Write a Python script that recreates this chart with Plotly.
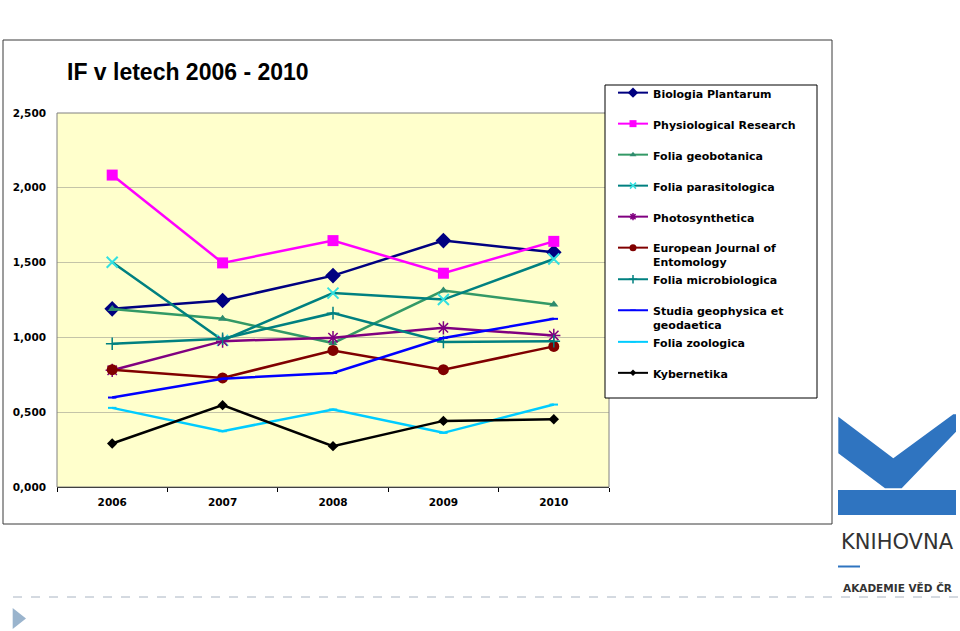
import plotly.graph_objects as go

# ---- data ----
years = ["2006", "2007", "2008", "2009", "2010"]
biologia = [1.191, 1.247, 1.413, 1.647, 1.569]
physiol = [2.085, 1.498, 1.647, 1.429, 1.642]
geobot = [1.190, 1.124, 0.962, 1.313, 1.220]
parasit = [1.502, 0.980, 1.296, 1.253, 1.524]
photosyn = [0.780, 0.975, 0.998, 1.064, 1.013]
eje = [0.784, 0.729, 0.913, 0.784, 0.940]
microbiol = [0.958, 0.991, 1.162, 0.969, 0.975]
studia = [0.598, 0.724, 0.762, 0.996, 1.124]
zoolog = [0.529, 0.373, 0.518, 0.362, 0.551]
kybern = [0.291, 0.547, 0.273, 0.442, 0.453]

series_names = [
    "Biologia Plantarum",
    "Physiological Research",
    "Folia geobotanica",
    "Folia parasitologica",
    "Photosynthetica",
    "European Journal of<br>Entomology",
    "Folia microbiologica",
    "Studia geophysica et<br>geodaetica",
    "Folia zoologica",
    "Kybernetika",
]
series_values = [biologia, physiol, geobot, parasit, photosyn, eje, microbiol, studia, zoolog, kybern]
y_ticks = [0, 0.5, 1.0, 1.5, 2.0, 2.5]

# ---- styles ----
styles = [
    dict(line="#000080", sym="diamond", mcol="#000080", size=12, lsize=8, lw=0),
    dict(line="#FF00FF", sym="square", mcol="#FF00FF", size=11, lsize=7, lw=0),
    dict(line="#339966", sym="triangle-up", mcol="#2E8B6E", size=8, lsize=6, lw=0),
    dict(line="#008080", sym="x-thin-open", mcol="#33E0E0", size=11, lsize=6, lw=2),
    dict(line="#800080", sym="asterisk-open", mcol="#800080", size=11, lsize=6, lw=1.5),
    dict(line="#800000", sym="circle", mcol="#800000", size=11, lsize=7, lw=0),
    dict(line="#008080", sym="cross-thin-open", mcol="#008080", size=9, lsize=6, lw=1.5),
    dict(line="#0000FF", sym="line-ew-open", mcol="#0000FF", size=6, lsize=4, lw=2),
    dict(line="#00CCFF", sym="line-ew-open", mcol="#00CCFF", size=6, lsize=4, lw=2),
    dict(line="#000000", sym="diamond", mcol="#000000", size=8, lsize=5, lw=0),
]
groups = ["g1", "g2", "g3", "g4", "g5", "g6", "g6", "g7", "g7", "g8"]

PL, PR, PT, PB = 57, 609, 113, 487
FONT = "DejaVu Sans, Verdana, sans-serif"
ARIAL = "Liberation Sans, Arial, sans-serif"


def px(x):
    return (x - PL) / (PR - PL)


def py(y):
    return (PB - y) / (PB - PT)


fig = go.Figure()
for name, vals, st, g in zip(series_names, series_values, styles, groups):
    fig.add_trace(go.Scatter(
        x=years, y=vals, name=name, mode="lines+markers",
        legendgroup=g, showlegend=False,
        line=dict(color=st["line"], width=2.5),
        marker=dict(symbol=st["sym"], color=st["mcol"], size=st["size"],
                    line=dict(color=st["mcol"], width=st["lw"])),
    ))
# legend entries (smaller symbols, as in the reference legend)
for name, st, g in zip(series_names, styles, groups):
    fig.add_trace(go.Scatter(
        x=[None], y=[None], name=name, mode="lines+markers",
        legendgroup=g, showlegend=True,
        line=dict(color=st["line"], width=2),
        marker=dict(symbol=st["sym"], color=st["mcol"], size=st["lsize"],
                    line=dict(color=st["mcol"], width=min(st["lw"], 1.5))),
    ))

shapes = [
    # outer chart frame
    dict(type="rect", xref="paper", yref="paper", x0=px(3), x1=px(832), y0=py(524), y1=py(40),
         line=dict(color="#3a3a3a", width=1), layer="below"),
    # plot border
    dict(type="rect", xref="paper", yref="paper", x0=0, x1=1, y0=0, y1=1,
         line=dict(color="#808080", width=1), layer="above"),
    # legend box
    dict(type="rect", xref="paper", yref="paper", x0=px(605), x1=px(817), y0=py(398), y1=py(85),
         line=dict(color="#000000", width=1), fillcolor="white", layer="above"),
    # logo: K chevron
    dict(type="path", xref="paper", yref="paper",
         path="M {},{} L {},{} L {},{} L {},{} L {},{} L {},{} L {},{} L {},{} Z".format(
             px(838.3), py(416.7), px(893.3), py(458.3), px(953.3), py(414.3), px(956), py(414.3),
             px(956), py(431.7), px(901.7), py(488.3), px(885), py(488.3), px(838.3), py(453.3)),
         fillcolor="#2F74C0", line=dict(width=0)),
    dict(type="rect", xref="paper", yref="paper", x0=px(838), x1=px(956), y0=py(515), y1=py(490),
         fillcolor="#2F74C0", line=dict(width=0)),
    # short blue dash under KNIHOVNA
    dict(type="line", xref="paper", yref="paper", x0=px(838), x1=px(860), y0=py(566.5), y1=py(566.5),
         line=dict(color="#2F74C0", width=2)),
    # slide dashed separator
    dict(type="line", xref="paper", yref="paper", x0=px(13), x1=px(960), y0=py(597), y1=py(597),
         line=dict(color="#A9B4C2", width=1, dash="dash")),
    # slide bullet triangle
    dict(type="path", xref="paper", yref="paper",
         path="M {},{} L {},{} L {},{} Z".format(px(12.7), py(608), px(26), py(618.5), px(12.7), py(629)),
         fillcolor="#9AB4CD", line=dict(width=0)),
]

annotations = [
    dict(text="<b>IF v letech 2006 - 2010</b>", xref="paper", yref="paper",
         x=px(65), y=py(72), xanchor="left", yanchor="middle", showarrow=False,
         font=dict(family=ARIAL, size=23, color="#000")),
    dict(text="KNIHOVNA", xref="paper", yref="paper", x=px(897), y=py(542),
         xanchor="center", yanchor="middle", showarrow=False,
         font=dict(family=FONT, size=21, color="#333333")),
    dict(text="<b>AKADEMIE VĚD ČR</b>", xref="paper", yref="paper", x=px(897), y=py(588),
         xanchor="center", yanchor="middle", showarrow=False,
         font=dict(family=FONT, size=10.5, color="#333333")),
]

fig.update_layout(
    width=960, height=631,
    margin=dict(l=PL, r=960 - PR, t=PT, b=631 - PB, autoexpand=False),
    paper_bgcolor="white",
    plot_bgcolor="#FFFFCC",
    separators=", ",
    showlegend=True,
    legend=dict(
        x=px(613), y=py(79), xanchor="left", yanchor="top",
        bgcolor="rgba(0,0,0,0)", borderwidth=0,
        font=dict(family=FONT, size=11, color="#000", weight="bold"),
        tracegroupgap=12, itemwidth=30, valign="top", traceorder="grouped",
    ),
    shapes=shapes,
    annotations=annotations,
    xaxis=dict(
        type="category", categoryorder="array", categoryarray=years,
        range=[-0.5, 4.5], showgrid=False, showline=True, linecolor="#000", linewidth=1,
        ticks="outside", tickson="boundaries", ticklen=4, tickcolor="#000",
        ticklabelstandoff=5,
        tickfont=dict(family=FONT, size=10.5, color="#000", weight="bold"),
        zeroline=False, fixedrange=True,
    ),
    yaxis=dict(
        range=[0, 2.5], tickvals=y_ticks, tickformat=".3f",
        showgrid=True, gridcolor="#C4C4A8", gridwidth=1, zeroline=False,
        showline=False, ticks="", ticklabelstandoff=10,
        tickfont=dict(family=FONT, size=10.5, color="#000", weight="bold"),
        fixedrange=True,
    ),
)

fig.write_html("out.html", config={"displayModeBar": False},
               post_script="document.body.style.margin='0px';")
